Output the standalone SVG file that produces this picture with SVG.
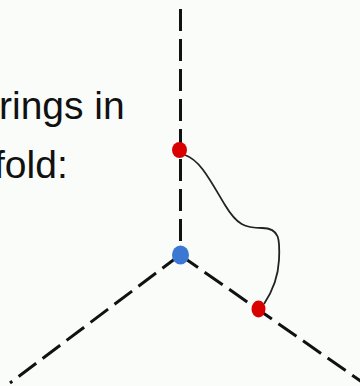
<svg xmlns="http://www.w3.org/2000/svg" width="360" height="386" viewBox="0 0 360 386">
<style>
.axis{stroke:#111;stroke-width:3;stroke-dasharray:22 8;fill:none}
.t{font-family:"Liberation Sans",Arial,sans-serif;font-size:39px;fill:#111}
.red{fill:#d90000}
.blue{fill:#3a78d4}
</style>
<rect width="360" height="386" fill="#fafcfa"/>
<text class="t" x="-1" y="119">rings in</text>
<text class="t" x="-6" y="178">fold:</text>
<g id="connectors">
<line class="axis" x1="180.5" y1="9" x2="180.5" y2="255"/>
<line class="axis" x1="180" y1="255" x2="10" y2="383" style="stroke-dashoffset:0"/>
<line class="axis" x1="180" y1="255" x2="362" y2="382"/>
<path d="M185,155 C200,160 210,180 225,205 C237,225 245,228 262,228 C280,228 280,240 279,260 C278,280 270,295 264,304" fill="none" stroke="#222" stroke-width="1.8"/>
</g>
<g id="node-top"><ellipse class="red" cx="179.5" cy="150" rx="7.5" ry="8"/></g>
<g id="node-center"><ellipse class="blue" cx="180.5" cy="255" rx="8.5" ry="9.5"/></g>
<g id="node-bottom"><ellipse class="red" cx="258.5" cy="309" rx="7" ry="8.5"/></g>
</svg>
